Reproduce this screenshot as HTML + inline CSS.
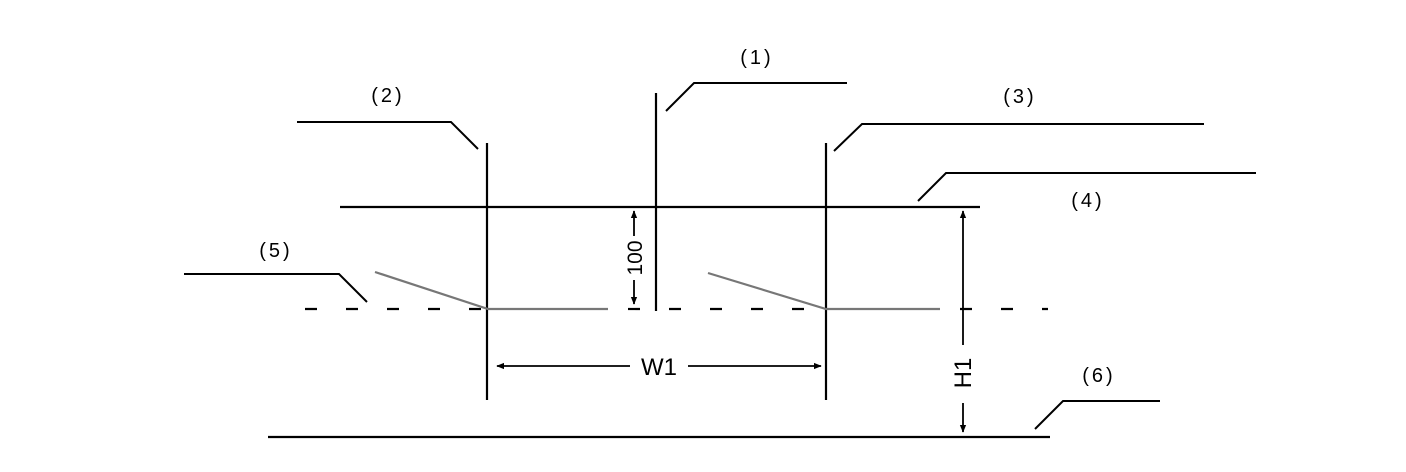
<!DOCTYPE html>
<html><head><meta charset="utf-8"><style>
html,body{margin:0;padding:0;background:#fff;}
svg{display:block;}
text{font-family:"Liberation Sans","Noto Sans CJK SC",sans-serif;fill:#000;}
.l{font-size:20px;letter-spacing:3px;}
</style></head><body>
<svg width="1406" height="472" viewBox="0 0 1406 472" xmlns="http://www.w3.org/2000/svg">
<defs>
<marker id="a" viewBox="0 0 10 10" refX="9" refY="5" markerWidth="8" markerHeight="8" orient="auto-start-reverse" markerUnits="userSpaceOnUse"><path d="M0,1 L10,5 L0,9 z" fill="#000"/></marker>
</defs>
<g stroke="#000" stroke-width="2.2" fill="none">
<line x1="487" y1="143" x2="487" y2="400"/>
<line x1="656" y1="93" x2="656" y2="311"/>
<line x1="826" y1="143" x2="826" y2="400"/>
<line x1="340" y1="207" x2="980" y2="207"/>
<line x1="268" y1="437" x2="1050" y2="437"/>
<line x1="305" y1="309" x2="484" y2="309" stroke-dasharray="12 29"/>
<line x1="628" y1="309" x2="810" y2="309" stroke-dasharray="12 29"/>
<line x1="960" y1="309" x2="1048" y2="309" stroke-dasharray="12 29"/>
<polyline points="666,111 694,83 847,83" stroke-width="2"/>
<polyline points="297,122 451,122 478,149" stroke-width="2"/>
<polyline points="834,151 862,124 1204,124" stroke-width="2"/>
<polyline points="918,201 946,173 1256,173" stroke-width="2"/>
<polyline points="184,274 339,274 367,302" stroke-width="2"/>
<polyline points="1035,429 1063,401 1160,401" stroke-width="2"/>
</g>
<g stroke="#777" stroke-width="2.2" fill="none">
<polyline points="375,272 488,309 608,309"/>
<polyline points="708,273 826,309 940,309"/>
</g>
<g stroke="#000" stroke-width="1.8" fill="none">
<line x1="630" y1="366" x2="497" y2="366" marker-end="url(#a)"/>
<line x1="688" y1="366" x2="821" y2="366" marker-end="url(#a)"/>
<line x1="963" y1="345" x2="963" y2="211" marker-end="url(#a)"/>
<line x1="963" y1="403" x2="963" y2="432" marker-end="url(#a)"/>
<line x1="634" y1="236" x2="634" y2="211" marker-end="url(#a)"/>
<line x1="634" y1="280" x2="634" y2="304" marker-end="url(#a)"/>
</g>
<text x="659" y="375" font-size="24" text-anchor="middle">W1</text>
<text x="0" y="0" font-size="24" text-anchor="middle" transform="translate(971,373) rotate(-90)">H1</text>
<text x="0" y="0" font-size="21" text-anchor="middle" transform="translate(642,258) rotate(-90)">100</text>
<text class="l" x="757" y="64" text-anchor="middle">(1)</text>
<text class="l" x="388" y="102" text-anchor="middle">(2)</text>
<text class="l" x="1020" y="103" text-anchor="middle">(3)</text>
<text class="l" x="1088" y="207" text-anchor="middle">(4)</text>
<text class="l" x="276" y="257" text-anchor="middle">(5)</text>
<text class="l" x="1099" y="382" text-anchor="middle">(6)</text>
</svg>
</body></html>
